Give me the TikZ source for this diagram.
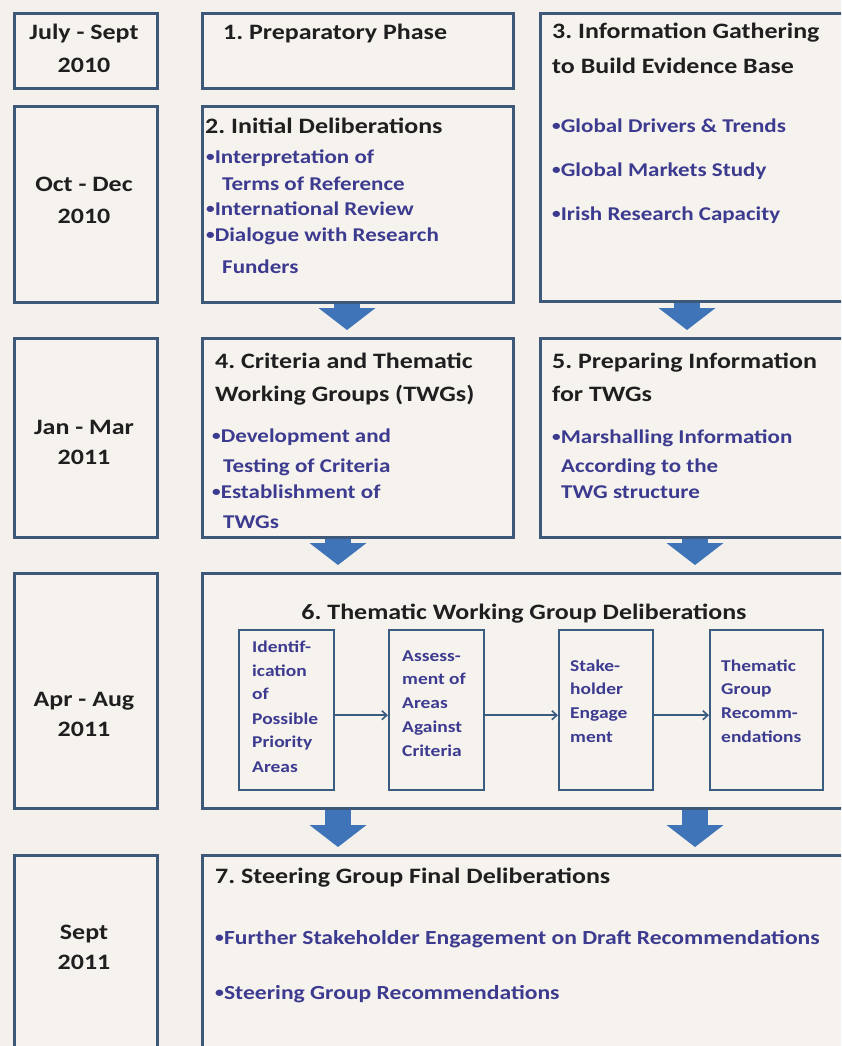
\documentclass[tikz,border=0pt]{standalone}
\usepackage{fontspec}
\setmainfont{Carlito}[FakeStretch=1.18]
\usetikzlibrary{arrows.meta}
\definecolor{bg}{HTML}{F4F0EB}
\definecolor{boxfill}{HTML}{F6F3EF}
\definecolor{edge}{HTML}{3D5878}
\definecolor{inedge}{HTML}{3A5C80}
\definecolor{arr}{HTML}{3F74B9}
\definecolor{bul}{HTML}{3C3B8F}
\definecolor{ttl}{HTML}{1F1F1F}
\newcommand{\bu}{\raisebox{0.1em}{\scalebox{0.75}{•}}}
\tikzset{
  frame/.style={draw=edge, line width=2.8pt, fill=boxfill, anchor=north west, inner sep=0pt},
  inbox/.style={draw=inedge, line width=2.4pt, fill=boxfill, anchor=north west, inner sep=0pt},
  hd/.style={font=\fontsize{22}{26}\selectfont\bfseries, text=ttl, anchor=west, inner sep=0pt, text height=13.2pt, text depth=0pt},
  dt/.style={font=\fontsize{22}{26}\selectfont\bfseries, text=ttl, anchor=center, inner sep=0pt, text height=13.2pt, text depth=0pt},
  bl/.style={font=\fontsize{19.5}{24}\selectfont\bfseries, text=bul, anchor=west, inner sep=0pt, text height=11.7pt, text depth=0pt},
  blbig/.style={font=\fontsize{20}{24}\selectfont\bfseries, text=bul, anchor=west, inner sep=0pt, text height=12pt, text depth=0pt},
  inr/.style={font=\fontsize{16.5}{20}\selectfont\bfseries, text=bul, anchor=west, inner sep=0pt, text height=9.9pt, text depth=0pt},
  blk/.style={arr, line width=26pt, shorten >=7pt, -{Triangle[width=57pt,length=22pt,line width=0pt]}},
  thinarr/.style={draw=inedge, line width=1.6pt, -{Straight Barb[length=5pt,width=9pt]}},
}
\begin{document}
\frenchspacing
\begin{tikzpicture}[x=1pt,y=-1pt]
\useasboundingbox (0,0) rectangle (841,1046);
\clip (0,0) rectangle (841,1046);
\fill[bg] (0,0) rectangle (841,1046);

% left column
\node[frame, minimum width=143pt, minimum height=75pt] (l1) at (13,12) {};
\node[frame, minimum width=143pt, minimum height=196pt] (l2) at (13,105) {};
\node[frame, minimum width=143pt, minimum height=199pt] (l3) at (13,337) {};
\node[frame, minimum width=143pt, minimum height=235pt] (l4) at (13,572) {};
\node[frame, minimum width=143pt, minimum height=200pt] (l5) at (13,854) {};
\node[dt] (d1a) at (84,33) {July - Sept};
\node[dt] (d1b) at (84,66) {2010};
\node[dt] (d2a) at (84,185) {Oct - Dec};
\node[dt] (d2b) at (84,217) {2010};
\node[dt] (d3a) at (84,428) {Jan - Mar};
\node[dt] (d3b) at (84,458) {2011};
\node[dt] (d4a) at (84,700) {Apr - Aug};
\node[dt] (d4b) at (84,730) {2011};
\node[dt] (d5a) at (84,933) {Sept};
\node[dt] (d5b) at (84,963) {2011};

% main boxes
\node[frame, minimum width=311pt, minimum height=75pt] (b1) at (201,12) {};
\node[frame, minimum width=311pt, minimum height=196pt] (b2) at (201,105) {};
\node[frame, minimum width=312pt, minimum height=288pt] (b3) at (539,12) {};
\node[frame, minimum width=311pt, minimum height=199pt] (b4) at (201,337) {};
\node[frame, minimum width=312pt, minimum height=199pt] (b5) at (539,337) {};
\node[frame, minimum width=650pt, minimum height=235pt] (b6) at (201,572) {};
\node[frame, minimum width=650pt, minimum height=200pt] (b7) at (201,854) {};

% box 1
\node[hd] (t1) at (223,33) {1. Preparatory Phase};
% box 2
\node[hd] (t2) at (205,127) {2. Initial Deliberations};
\node[bl] (t2a) at (206,158) {\bu Interpretation of};
\node[bl] (t2b) at (222,185) {Terms of Reference};
\node[bl] (t2c) at (206,210) {\bu International Review};
\node[bl] (t2d) at (206,236) {\bu Dialogue with Research};
\node[bl] (t2e) at (222,268) {Funders};
% box 3
\node[hd] (t3) at (552,32) {3. Information Gathering};
\node[hd] (t3b) at (552,67) {to Build Evidence Base};
\node[bl] (t3c) at (552,127) {\bu Global Drivers \& Trends};
\node[bl] (t3d) at (552,171) {\bu Global Markets Study};
\node[bl] (t3e) at (552,215) {\bu Irish Research Capacity};
% box 4
\node[hd] (t4) at (215,362) {4. Criteria and Thematic};
\node[hd] (t4b) at (215,395) {Working Groups (TWGs)};
\node[bl] (t4c) at (212,437) {\bu Development and};
\node[bl] (t4d) at (223,467) {Testing of Criteria};
\node[bl] (t4e) at (212,493) {\bu Establishment of};
\node[bl] (t4f) at (223,523) {TWGs};
% box 5
\node[hd] (t5) at (552,362) {5. Preparing Information};
\node[hd] (t5b) at (552,395) {for TWGs};
\node[bl] (t5c) at (552,438) {\bu Marshalling Information};
\node[bl] (t5d) at (561,467) {According to the};
\node[bl] (t5e) at (561,493) {TWG structure};
% box 6
\node[dt] (t6) at (524,613) {6. Thematic Working Group Deliberations};
\node[inbox, minimum width=95pt, minimum height=160pt] (ia) at (238,629) {};
\node[inbox, minimum width=95pt, minimum height=160pt] (ib) at (388,629) {};
\node[inbox, minimum width=94pt, minimum height=160pt] (ic) at (558,629) {};
\node[inbox, minimum width=113pt, minimum height=160pt] (id) at (709,629) {};
\node[inr] (ia1) at (252,648) {Identif-};
\node[inr] (ia2) at (252,672) {ication};
\node[inr] (ia3) at (252,695) {of};
\node[inr] (ia4) at (252,720) {Possible};
\node[inr] (ia5) at (252,743) {Priority};
\node[inr] (ia6) at (252,768) {Areas};
\node[inr] (ib1) at (402,657) {Assess-};
\node[inr] (ib2) at (402,680) {ment of};
\node[inr] (ib3) at (402,704) {Areas};
\node[inr] (ib4) at (402,728) {Against};
\node[inr] (ib5) at (402,752) {Criteria};
\node[inr] (ic1) at (570,667) {Stake-};
\node[inr] (ic2) at (570,690) {holder};
\node[inr] (ic3) at (570,714) {Engage};
\node[inr] (ic4) at (570,738) {ment};
\node[inr] (id1) at (721,667) {Thematic};
\node[inr] (id2) at (721,690) {Group};
\node[inr] (id3) at (721,714) {Recomm-};
\node[inr] (id4) at (721,738) {endations};
\draw[thinarr] ([yshift=-5pt]ia.east) -- ([yshift=-5pt]ib.west);
\draw[thinarr] ([yshift=-5pt]ib.east) -- ([yshift=-5pt]ic.west);
\draw[thinarr] ([yshift=-5pt]ic.east) -- ([yshift=-5pt]id.west);
% box 7
\node[hd] (t7) at (215,877) {7. Steering Group Final Deliberations};
\node[blbig] (t7a) at (215,938) {\bu Further Stakeholder Engagement on Draft Recommendations};
\node[blbig] (t7b) at (215,993) {\bu Steering Group Recommendations};

% block arrows
\coordinate (ax1) at (347,0);
\coordinate (ax2) at (687,0);
\coordinate (ax3) at (338,0);
\coordinate (ax4) at (695,0);
\draw[blk] (b2.south -| ax1) -- (b4.north -| ax1);
\draw[blk] (b3.south -| ax2) -- (b5.north -| ax2);
\draw[blk] (b4.south -| ax3) -- (b6.north -| ax3);
\draw[blk] (b5.south -| ax4) -- (b6.north -| ax4);
\draw[blk] (b6.south -| ax3) -- (b7.north -| ax3);
\draw[blk] (b6.south -| ax4) -- (b7.north -| ax4);
\end{tikzpicture}
\end{document}
